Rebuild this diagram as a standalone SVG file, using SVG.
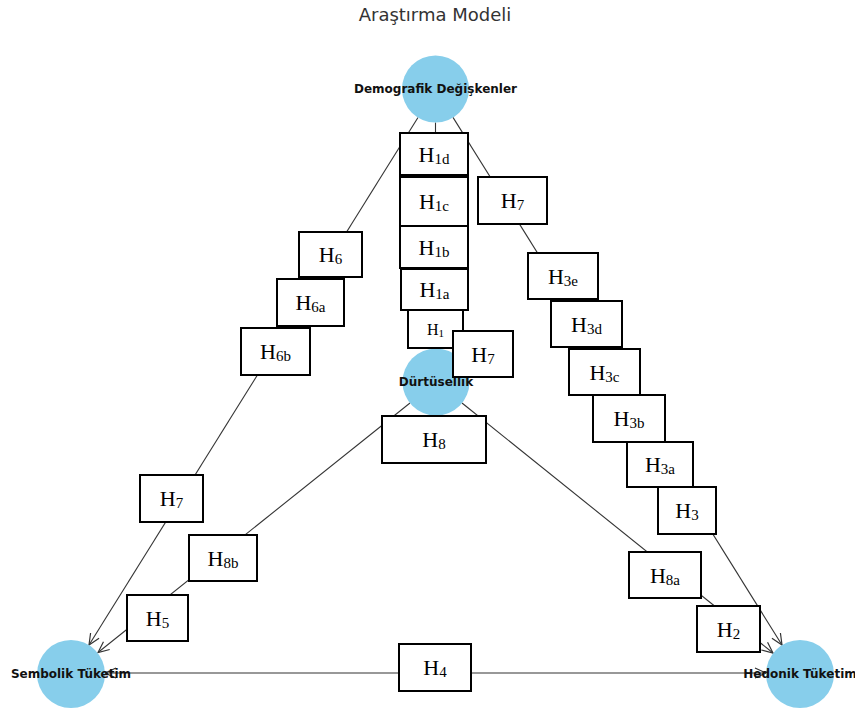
<svg xmlns="http://www.w3.org/2000/svg" width="855" height="711" viewBox="0 0 855 711">
<style>
.edge{fill:none;stroke:#333;stroke-width:1.1}
.node{fill:#87CEEB}
.nlab{font-family:"DejaVu Sans",sans-serif;font-weight:bold;font-size:12px;fill:#111;text-anchor:middle}
.box{fill:#fff;stroke:#000;stroke-width:2}
.blab{font-family:"Liberation Serif","Times New Roman",serif;font-size:22px;fill:#000;text-anchor:middle}
.sub{font-size:15px}
.title{font-family:"DejaVu Sans",sans-serif;font-size:18px;fill:#333;text-anchor:middle}
</style>
<defs>
<marker id="arr" markerWidth="12" markerHeight="12" refX="0" refY="0" orient="auto-start-reverse" markerUnits="userSpaceOnUse" overflow="visible">
<path d="M-11,-5 L0,0 L-11,5" fill="none" stroke="#333" stroke-width="1.2"/>
</marker>
</defs>
<rect x="0" y="0" width="855" height="711" fill="#fff"/>
<text class="title" x="435" y="21">Araştırma Modeli</text>
<g id="connectors">
<path class="edge" d="M418,117.5 L89,645" marker-end="url(#arr)"/>
<path class="edge" d="M435.5,122.5 L435.5,348.5" marker-end="url(#arr)"/>
<path class="edge" d="M453,117.4 L782,645" marker-end="url(#arr)"/>
<path class="edge" d="M410,403 L98,652.5" marker-end="url(#arr)"/>
<path class="edge" d="M462,403 L773,653" marker-end="url(#arr)"/>
<path class="edge" d="M105,673 L766,673" marker-start="url(#arr)" marker-end="url(#arr)"/>
</g>
<g id="node-demografik">
<circle class="node" cx="435.5" cy="89" r="33.5"/>
<text class="nlab" x="435.5" y="93">Demografik Değişkenler</text>
</g>
<g id="node-durtusellik">
<circle class="node" cx="436" cy="382" r="33.5"/>
<text class="nlab" x="436" y="386">Dürtüsellik</text>
</g>
<g id="node-sembolik">
<circle class="node" cx="71" cy="674" r="34"/>
<text class="nlab" x="71" y="678">Sembolik Tüketim</text>
</g>
<g id="node-hedonik">
<circle class="node" cx="800" cy="674" r="34"/>
<text class="nlab" x="800" y="678">Hedonik Tüketim</text>
</g>
<g id="edge-labels">
<g id="l-h1d"><rect class="box" x="400" y="133" width="68" height="42"/><text class="blab" x="434" y="162">H<tspan class="sub" dy="2">1d</tspan></text></g>
<g id="l-h1c"><rect class="box" x="400" y="177" width="68" height="49"/><text class="blab" x="434" y="209">H<tspan class="sub" dy="2">1c</tspan></text></g>
<g id="l-h1b"><rect class="box" x="400" y="226" width="68" height="42"/><text class="blab" x="434" y="255">H<tspan class="sub" dy="2">1b</tspan></text></g>
<g id="l-h1a"><rect class="box" x="401" y="269" width="67" height="41"/><text class="blab" x="434.5" y="297">H<tspan class="sub" dy="2">1a</tspan></text></g>
<g id="l-h1"><rect class="box" x="408" y="310" width="55" height="38"/><text class="blab" x="435.5" y="335" style="font-size:16px">H<tspan class="sub" dy="2" style="font-size:11px">1</tspan></text></g>
<g id="l-h7a"><rect class="box" x="478" y="177" width="69" height="47"/><text class="blab" x="512.5" y="208">H<tspan class="sub" dy="2">7</tspan></text></g>
<g id="l-h3e"><rect class="box" x="528" y="253" width="70" height="46"/><text class="blab" x="563" y="284">H<tspan class="sub" dy="2">3e</tspan></text></g>
<g id="l-h3d"><rect class="box" x="551" y="301" width="71" height="46"/><text class="blab" x="586.5" y="332">H<tspan class="sub" dy="2">3d</tspan></text></g>
<g id="l-h3c"><rect class="box" x="569" y="349" width="71" height="46"/><text class="blab" x="604.5" y="380">H<tspan class="sub" dy="2">3c</tspan></text></g>
<g id="l-h3b"><rect class="box" x="593" y="395" width="72" height="47"/><text class="blab" x="629" y="426">H<tspan class="sub" dy="2">3b</tspan></text></g>
<g id="l-h3a"><rect class="box" x="627" y="442" width="66" height="45"/><text class="blab" x="660" y="472">H<tspan class="sub" dy="2">3a</tspan></text></g>
<g id="l-h3"><rect class="box" x="658" y="487" width="58" height="47"/><text class="blab" x="687" y="518">H<tspan class="sub" dy="2">3</tspan></text></g>
<g id="l-h6"><rect class="box" x="299" y="232" width="63" height="45"/><text class="blab" x="330.5" y="262">H<tspan class="sub" dy="2">6</tspan></text></g>
<g id="l-h6a"><rect class="box" x="277" y="279" width="67" height="47"/><text class="blab" x="310.5" y="310">H<tspan class="sub" dy="2">6a</tspan></text></g>
<g id="l-h6b"><rect class="box" x="241" y="328" width="69" height="47"/><text class="blab" x="275.5" y="359">H<tspan class="sub" dy="2">6b</tspan></text></g>
<g id="l-h7b"><rect class="box" x="453" y="331" width="60" height="46"/><text class="blab" x="483" y="362">H<tspan class="sub" dy="2">7</tspan></text></g>
<g id="l-h8"><rect class="box" x="382" y="416" width="104" height="47"/><text class="blab" x="434" y="447">H<tspan class="sub" dy="2">8</tspan></text></g>
<g id="l-h7c"><rect class="box" x="140" y="475" width="63" height="47"/><text class="blab" x="171.5" y="506">H<tspan class="sub" dy="2">7</tspan></text></g>
<g id="l-h8b"><rect class="box" x="189" y="535" width="68" height="46"/><text class="blab" x="223" y="566">H<tspan class="sub" dy="2">8b</tspan></text></g>
<g id="l-h5"><rect class="box" x="127" y="595" width="61" height="46"/><text class="blab" x="157.5" y="626">H<tspan class="sub" dy="2">5</tspan></text></g>
<g id="l-h8a"><rect class="box" x="629" y="552" width="72" height="46"/><text class="blab" x="665" y="583">H<tspan class="sub" dy="2">8a</tspan></text></g>
<g id="l-h2"><rect class="box" x="697" y="606" width="63" height="46"/><text class="blab" x="728.5" y="637">H<tspan class="sub" dy="2">2</tspan></text></g>
<g id="l-h4"><rect class="box" x="399" y="644" width="72" height="47"/><text class="blab" x="435" y="675">H<tspan class="sub" dy="2">4</tspan></text></g>
</g>
</svg>
